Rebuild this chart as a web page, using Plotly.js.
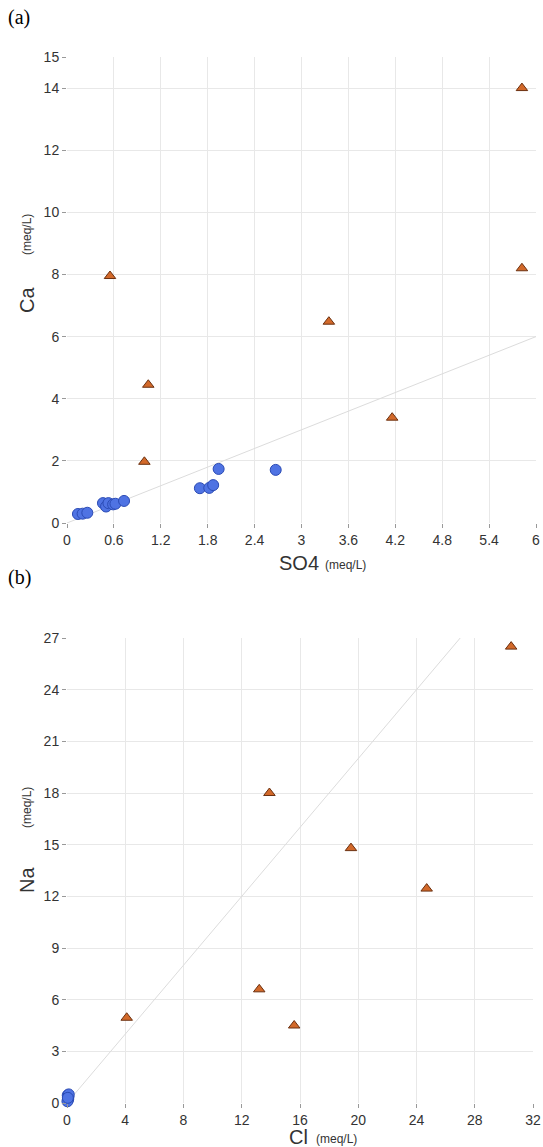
<!DOCTYPE html>
<html>
<head>
<meta charset="utf-8">
<script src="https://cdn.plot.ly/plotly-3.0.1.min.js"></script>
<style>html,body{margin:0;padding:0;background:#fff;}#plot{width:543px;height:1147px;}</style>
</head>
<body>
<div id="plot"></div>
<script>
// Panel (a): Ca vs SO4 (meq/L)
const a_blue_so4 = [0.14, 0.20, 0.26, 0.46, 0.50, 0.53, 0.59, 0.62, 0.73, 1.70, 1.82, 1.87, 1.94, 2.67];
const a_blue_ca  = [0.29, 0.30, 0.33, 0.64, 0.53, 0.64, 0.60, 0.62, 0.71, 1.12, 1.13, 1.22, 1.74, 1.71];
const a_tri_so4 = [0.55, 0.99, 1.04, 3.35, 4.16, 5.82, 5.82];
const a_tri_ca  = [7.95, 1.97, 4.45, 6.48, 3.39, 14.0, 8.2];
const a_line_x = [0, 6];
const a_line_y = [0, 6];
const a_xticks = [0, 0.6, 1.2, 1.8, 2.4, 3, 3.6, 4.2, 4.8, 5.4, 6];
const a_xticklabels = ['0', '0.6', '1.2', '1.8', '2.4', '3', '3.6', '4.2', '4.8', '5.4', '6'];
const a_yticks = [0, 2, 4, 6, 8, 10, 12, 14, 15];

// Panel (b): Na vs Cl (meq/L)
const b_blue_cl = [0.05, 0.10, 0.08, 0.03, 0.12, 0.06];
const b_blue_na = [0.45, 0.35, 0.20, 0.10, 0.50, 0.30];
const b_tri_cl = [4.1, 13.2, 13.9, 15.6, 19.5, 24.7, 30.5];
const b_tri_na = [4.95, 6.6, 18.0, 4.5, 14.8, 12.45, 26.5];
const b_line_x = [0, 27];
const b_line_y = [0, 27];
const b_xticks = [0, 4, 8, 12, 16, 20, 24, 28, 32];
const b_yticks = [0, 3, 6, 9, 12, 15, 18, 21, 24, 27];

const W = 543, H = 1147;
const px = v => v / W;
const py = v => 1 - v / H;

const blueMarker = {symbol: 'circle', size: 11, color: '#4f73e3', line: {color: '#2b4bb5', width: 1}};
const triMarker = {symbol: 'triangle-up', size: 10, color: '#d2692a', line: {color: '#6b3010', width: 1}};
const lineStyle = {color: '#dcdcdc', width: 1};

const traces = [
  {x: a_line_x, y: a_line_y, mode: 'lines', line: lineStyle, xaxis: 'x', yaxis: 'y', hoverinfo: 'skip'},
  {x: a_blue_so4, y: a_blue_ca, mode: 'markers', marker: blueMarker, xaxis: 'x', yaxis: 'y', cliponaxis: false},
  {x: a_tri_so4, y: a_tri_ca, mode: 'markers', marker: triMarker, xaxis: 'x', yaxis: 'y', cliponaxis: false},
  {x: b_line_x, y: b_line_y, mode: 'lines', line: lineStyle, xaxis: 'x2', yaxis: 'y2', hoverinfo: 'skip'},
  {x: b_blue_cl, y: b_blue_na, mode: 'markers', marker: blueMarker, xaxis: 'x2', yaxis: 'y2', cliponaxis: false},
  {x: b_tri_cl, y: b_tri_na, mode: 'markers', marker: triMarker, xaxis: 'x2', yaxis: 'y2', cliponaxis: false}
];

const tickFont = {family: 'Liberation Sans, Arial, sans-serif', size: 14, color: '#333'};
const axisCommon = {
  showgrid: true, gridcolor: '#e8e8e8', gridwidth: 1, zeroline: false,
  showline: false, ticks: 'outside', ticklen: 4, tickcolor: '#999',
  tickfont: tickFont, tickmode: 'array', fixedrange: true
};

const layout = {
  width: W, height: H,
  margin: {l: 0, r: 0, t: 0, b: 0},
  paper_bgcolor: '#fff', plot_bgcolor: '#fff',
  showlegend: false,
  xaxis: Object.assign({}, axisCommon, {domain: [px(67), px(536)], range: [0, 6], tickvals: a_xticks, ticktext: a_xticklabels, anchor: 'y'}),
  yaxis: Object.assign({}, axisCommon, {domain: [py(523), py(57)], range: [0, 15], tickvals: a_yticks, anchor: 'x'}),
  xaxis2: Object.assign({}, axisCommon, {domain: [px(67), px(533)], range: [0, 32], tickvals: b_xticks, anchor: 'y2'}),
  yaxis2: Object.assign({}, axisCommon, {domain: [py(1103), py(638)], range: [0, 27], tickvals: b_yticks, anchor: 'x2'}),
  annotations: [
    {text: '(a)', x: px(6), y: py(18), xref: 'paper', yref: 'paper', xanchor: 'left', yanchor: 'middle', showarrow: false, font: {family: 'Liberation Serif, Times New Roman, serif', size: 20, color: '#000'}},
    {text: '(b)', x: px(6), y: py(577), xref: 'paper', yref: 'paper', xanchor: 'left', yanchor: 'middle', showarrow: false, font: {family: 'Liberation Serif, Times New Roman, serif', size: 20, color: '#000'}},
    {text: 'SO4', x: px(299), y: py(563), xref: 'paper', yref: 'paper', xanchor: 'center', yanchor: 'middle', showarrow: false, font: {family: 'Liberation Sans, Arial, sans-serif', size: 20, color: '#333'}},
    {text: '(meq/L)', x: px(323), y: py(565), xref: 'paper', yref: 'paper', xanchor: 'left', yanchor: 'middle', showarrow: false, font: {family: 'Liberation Sans, Arial, sans-serif', size: 12, color: '#333'}},
    {text: 'Ca', x: px(27), y: py(300), xref: 'paper', yref: 'paper', xanchor: 'center', yanchor: 'middle', textangle: -90, showarrow: false, font: {family: 'Liberation Sans, Arial, sans-serif', size: 20, color: '#333'}},
    {text: '(meq/L)', x: px(27), y: py(235), xref: 'paper', yref: 'paper', xanchor: 'center', yanchor: 'middle', textangle: -90, showarrow: false, font: {family: 'Liberation Sans, Arial, sans-serif', size: 12, color: '#333'}},
    {text: 'Cl', x: px(298), y: py(1137), xref: 'paper', yref: 'paper', xanchor: 'center', yanchor: 'middle', showarrow: false, font: {family: 'Liberation Sans, Arial, sans-serif', size: 20, color: '#333'}},
    {text: '(meq/L)', x: px(314), y: py(1139), xref: 'paper', yref: 'paper', xanchor: 'left', yanchor: 'middle', showarrow: false, font: {family: 'Liberation Sans, Arial, sans-serif', size: 12, color: '#333'}},
    {text: 'Na', x: px(27), y: py(880), xref: 'paper', yref: 'paper', xanchor: 'center', yanchor: 'middle', textangle: -90, showarrow: false, font: {family: 'Liberation Sans, Arial, sans-serif', size: 20, color: '#333'}},
    {text: '(meq/L)', x: px(27), y: py(808), xref: 'paper', yref: 'paper', xanchor: 'center', yanchor: 'middle', textangle: -90, showarrow: false, font: {family: 'Liberation Sans, Arial, sans-serif', size: 12, color: '#333'}}
  ]
};

Plotly.newPlot('plot', traces, layout, {staticPlot: true, displayModeBar: false});
</script>
</body>
</html>
